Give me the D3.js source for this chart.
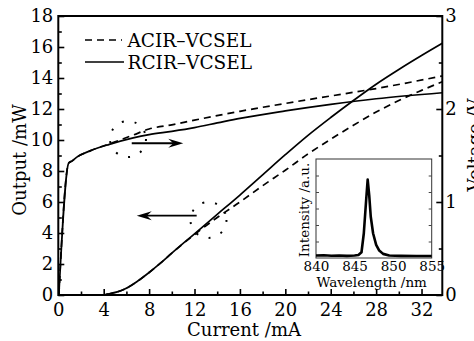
<!DOCTYPE html>
<html>
<head>
<meta charset="utf-8">
<script src="https://cdn.jsdelivr.net/npm/d3@7"></script>
<style>
  html, body { margin: 0; padding: 0; background: #fff; }
  svg { display: block; }
  text { font-family: "DejaVu Serif", serif; fill: #000; }
</style>
</head>
<body>
<svg id="chart" width="474" height="341"></svg>
<script>
// ---------------- data ----------------
const seriesNames = ["ACIR\u2013VCSEL", "RCIR\u2013VCSEL"];

// Output power (mW) vs current (mA)
const currentPowerRCIR = [0, 3.8, 4.5, 5.2, 5.9, 7, 8, 9, 10, 12, 14, 16, 18, 20, 22, 24, 26, 28, 30, 32, 33.83];
const powerRCIR        = [0, 0, 0.08, 0.2, 0.4, 0.9, 1.45, 2.05, 2.7, 3.95, 5.2, 6.45, 7.75, 9.05, 10.3, 11.45, 12.55, 13.6, 14.55, 15.45, 16.24];
const currentPowerACIR = [0, 3.8, 4.5, 5.2, 5.9, 7, 8, 9, 10, 12, 14, 16, 18, 20, 22, 24, 26, 28, 30, 32, 33.83];
const powerACIR        = [0, 0, 0.08, 0.2, 0.4, 0.9, 1.45, 2.05, 2.7, 3.9, 5.0, 6.0, 7.05, 8.05, 9.1, 10.05, 10.95, 11.8, 12.55, 13.2, 13.76];

// Voltage (V) vs current (mA)
const currentVoltRCIR = [0.05, 0.92, 1.2, 1.6, 2.8, 4.5, 6.6, 8, 10, 12, 14, 16, 20, 24, 28, 33.83];
const voltRCIR        = [0, 1.42, 1.44, 1.48, 1.55, 1.62, 1.69, 1.725, 1.76, 1.80, 1.85, 1.9, 1.98, 2.05, 2.11, 2.175];
const currentVoltACIR = [0.05, 0.92, 1.2, 1.6, 2.8, 4.5, 6.6, 8, 10, 12, 16, 20, 24, 28, 33.83];
const voltACIR        = [0, 1.42, 1.44, 1.48, 1.55, 1.625, 1.72, 1.785, 1.83, 1.88, 1.975, 2.06, 2.14, 2.22, 2.355];

// Inset spectrum
const wavelength = [840, 841, 842, 843, 844, 845, 845.5, 845.9, 846.2, 846.5, 846.7, 846.9, 847.1, 847.4, 847.8, 848.2, 848.7, 849.5, 851, 853, 855];
const intensity  = [0.15, 0.17, 0.14, 0.15, 0.13, 0.15, 0.18, 0.35, 1.5, 3.5, 4.75, 3.8, 2.5, 1.5, 0.8, 0.45, 0.25, 0.15, 0.13, 0.12, 0.12];

// ticks
const xMajorTicks = [0, 4, 8, 12, 16, 20, 24, 28, 32];
const xMinorTicks = [2, 6, 10, 14, 18, 22, 26, 30];
const yLeftMajorTicks = [0, 2, 4, 6, 8, 10, 12, 14, 16, 18];
const yLeftMinorTicks = [1, 3, 5, 7, 9, 11, 13, 15, 17];
const yRightMajorTicks = [0, 1, 2, 3];
const yRightMinorTicks = [0.5, 1.5, 2.5];
const insetXTicks = [840, 845, 850, 855];
const insetYTicks = [1, 2, 3, 4, 5];

const xLabel = "Current /mA";
const yLeftLabel = "Output /mW";
const yRightLabel = "Voltage /V";
const insetXLabel = "Wavelength /nm";
const insetYLabel = "Intensity /a.u.";

// ---------------- layout ----------------
const svg = d3.select("#chart");
const L = 58.3, R = 442.3, T = 16, B = 295;

const x = d3.scaleLinear().domain([0, 33.83]).range([L, R]);
const yL = d3.scaleLinear().domain([0, 18]).range([B, T]);
const yR = d3.scaleLinear().domain([0, 3]).range([B, T]);

const FS = 18;
const fmt = d3.format("d");

function styleAxis(g) {
  g.select(".domain").remove();
  g.selectAll("line").attr("stroke", "#000").attr("stroke-width", 1.6);
  g.selectAll("text").style("font-size", FS + "px").style("font-family", "DejaVu Serif, serif");
}

svg.append("g").attr("transform", `translate(0,${B})`)
  .call(d3.axisBottom(x).tickValues(xMajorTicks).tickFormat(fmt).tickSizeInner(-6).tickSizeOuter(0).tickPadding(8))
  .call(styleAxis);
svg.append("g").attr("transform", `translate(0,${B})`)
  .call(d3.axisBottom(x).tickValues(xMinorTicks).tickFormat("").tickSizeInner(-3.5).tickSizeOuter(0))
  .call(styleAxis);

svg.append("g").attr("transform", `translate(${L},0)`)
  .call(d3.axisLeft(yL).tickValues(yLeftMajorTicks).tickFormat(fmt).tickSizeInner(-6).tickSizeOuter(0).tickPadding(5))
  .call(styleAxis);
svg.append("g").attr("transform", `translate(${L},0)`)
  .call(d3.axisLeft(yL).tickValues(yLeftMinorTicks).tickFormat("").tickSizeInner(-3.5).tickSizeOuter(0))
  .call(styleAxis);

svg.append("g").attr("transform", `translate(${R},0)`)
  .call(d3.axisRight(yR).tickValues(yRightMajorTicks).tickFormat(fmt).tickSizeInner(-6).tickSizeOuter(0).tickPadding(3))
  .call(styleAxis);
svg.append("g").attr("transform", `translate(${R},0)`)
  .call(d3.axisRight(yR).tickValues(yRightMinorTicks).tickFormat("").tickSizeInner(-3.5).tickSizeOuter(0))
  .call(styleAxis);

// frame
svg.append("rect").attr("x", L).attr("y", T).attr("width", R - L).attr("height", B - T)
  .attr("fill", "none").attr("stroke", "#000").attr("stroke-width", 2);

// axis labels
svg.append("text").attr("x", 244).attr("y", 336).attr("text-anchor", "middle")
  .style("font-size", FS + "px").text(xLabel);
svg.append("text").attr("transform", "translate(25.5,160) rotate(-90)").attr("text-anchor", "middle")
  .style("font-size", FS + "px").text(yLeftLabel);
svg.append("text").attr("transform", "translate(481,145) rotate(-90)").attr("text-anchor", "middle")
  .style("font-size", FS + "px").text(yRightLabel);

// curves
const lineP = d3.line().x(d => x(d[0])).y(d => yL(d[1])).curve(d3.curveMonotoneX);
const lineV = d3.line().x(d => x(d[0])).y(d => yR(d[1])).curve(d3.curveMonotoneX);
const zip = (a, b) => a.map((v, i) => [v, b[i]]);

const DASH = "7,5";
svg.append("path").attr("d", lineP(zip(currentPowerACIR, powerACIR)))
  .attr("fill", "none").attr("stroke", "#000").attr("stroke-width", 1.7).attr("stroke-dasharray", DASH);
svg.append("path").attr("d", lineP(zip(currentPowerRCIR, powerRCIR)))
  .attr("fill", "none").attr("stroke", "#000").attr("stroke-width", 1.7);
svg.append("path").attr("d", lineV(zip(currentVoltACIR, voltACIR)))
  .attr("fill", "none").attr("stroke", "#000").attr("stroke-width", 1.7).attr("stroke-dasharray", DASH);
svg.append("path").attr("d", lineV(zip(currentVoltRCIR, voltRCIR)))
  .attr("fill", "none").attr("stroke", "#000").attr("stroke-width", 1.7);

// annotations (data coordinates: mA, mW)
const circles = [{c: [6.14, 10.06]}, {c: [13.23, 4.84]}];
circles.forEach(o => {
  svg.append("circle").attr("cx", x(o.c[0])).attr("cy", yL(o.c[1])).attr("r", 18)
    .attr("fill", "none").attr("stroke", "#000").attr("stroke-width", 2)
    .attr("stroke-dasharray", "2,11");
});

function arrow(x1, y1, x2, y2) {
  const dir = Math.sign(x2 - x1);
  const hl = 15, hw = 4.5, notch = 10;
  svg.append("line").attr("x1", x1).attr("y1", y1).attr("x2", x2 - dir * notch).attr("y2", y2)
    .attr("stroke", "#000").attr("stroke-width", 1.8);
  const p = [
    [x2, y2],
    [x2 - dir * hl, y2 - hw],
    [x2 - dir * notch, y2],
    [x2 - dir * hl, y2 + hw]
  ];
  svg.append("path").attr("d", "M" + p.map(q => q.join(",")).join("L") + "Z").attr("fill", "#000");
}
arrow(x(6.47), yL(9.79), x(11.01), yL(9.79));
arrow(x(12.19), yL(5.12), x(6.91), yL(5.12));

// legend
const legY = [40, 62];
svg.append("line").attr("x1", 85).attr("x2", 122).attr("y1", legY[0]).attr("y2", legY[0])
  .attr("stroke", "#000").attr("stroke-width", 1.7).attr("stroke-dasharray", DASH);
svg.append("line").attr("x1", 85).attr("x2", 124).attr("y1", legY[1]).attr("y2", legY[1])
  .attr("stroke", "#000").attr("stroke-width", 1.7);
seriesNames.forEach((n, i) => {
  svg.append("text").attr("x", 127.5).attr("y", legY[i] + 6.5).style("font-size", "18.5px").text(n);
});

// inset
const iL = 316, iR = 431.7, iT = 159, iB = 258;
const ix = d3.scaleLinear().domain([840, 855]).range([iL, iR]);
const iy = d3.scaleLinear().domain([0, 6]).range([iB, iT]);
const inset = svg.append("g");
inset.append("rect").attr("x", iL).attr("y", iT).attr("width", iR - iL).attr("height", iB - iT)
  .attr("fill", "#fff").attr("stroke", "#333").attr("stroke-width", 1);

inset.append("g").attr("transform", `translate(0,${iB})`)
  .call(d3.axisBottom(ix).tickValues(insetXTicks).tickFormat(fmt).tickSize(0).tickPadding(3))
  .call(g => {
    g.select(".domain").remove();
    g.selectAll("text").style("font-size", "13.5px").style("font-family", "DejaVu Serif, serif");
  });
inset.append("g").attr("transform", `translate(${iL},0)`)
  .call(d3.axisLeft(iy).tickValues(insetYTicks).tickFormat("").tickSizeInner(-3).tickSizeOuter(0))
  .call(g => { g.select(".domain").remove(); g.selectAll("line").attr("stroke", "#444"); });
inset.append("g").attr("transform", `translate(${iR},0)`)
  .call(d3.axisRight(iy).tickValues(insetYTicks).tickFormat("").tickSizeInner(-3).tickSizeOuter(0))
  .call(g => { g.select(".domain").remove(); g.selectAll("line").attr("stroke", "#444"); });

const lineS = d3.line().x(d => ix(d[0])).y(d => iy(d[1]));
inset.append("path").attr("d", lineS(zip(wavelength, intensity)))
  .attr("fill", "none").attr("stroke", "#000").attr("stroke-width", 2.6).attr("stroke-linejoin", "round");

inset.append("text").attr("x", 371.7).attr("y", 287).attr("text-anchor", "middle")
  .style("font-size", "13.5px").text(insetXLabel);
inset.append("text").attr("transform", "translate(309,210) rotate(-90)").attr("text-anchor", "middle")
  .style("font-size", "13.5px").text(insetYLabel);
</script>
</body>
</html>
